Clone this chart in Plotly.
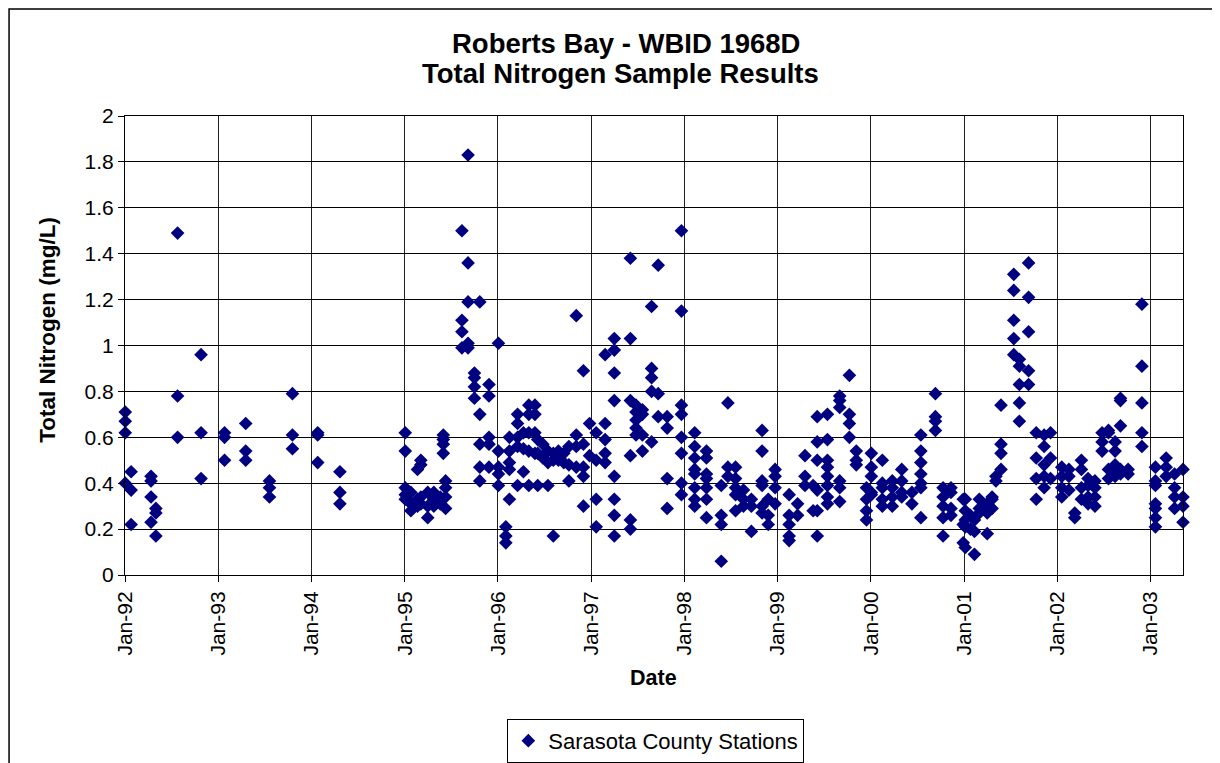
import plotly.graph_objects as go

# ---- data (sample date -> Total Nitrogen values, mg/L) ----
dates_1992 = ["1992-01-02", "1992-01-25", "1992-04-12", "1992-05-01", "1992-07-25", "1992-10-25"]
tn_1992 = [[0.71, 0.67, 0.62, 0.40], [0.45, 0.37, 0.22], [0.43, 0.41, 0.34, 0.23], [0.29, 0.27, 0.17],
           [1.49, 0.78, 0.60], [0.96, 0.62, 0.42]]

dates_1993 = ["1993-01-25", "1993-04-18", "1993-07-20", "1993-10-18"]
tn_1993 = [[0.62, 0.60, 0.50], [0.66, 0.54, 0.50], [0.41, 0.38, 0.34], [0.79, 0.61, 0.55]]

dates_1994 = ["1994-01-25", "1994-04-22"]
tn_1994 = [[0.62, 0.61, 0.49], [0.45, 0.36, 0.31]]

dates_1995 = ["1995-01-03", "1995-01-25", "1995-02-20", "1995-03-05", "1995-04-01", "1995-04-25",
              "1995-05-20", "1995-06-01", "1995-06-10", "1995-08-13", "1995-09-06", "1995-10-01",
              "1995-10-22", "1995-11-27"]
tn_1995 = [[0.62, 0.54, 0.38, 0.35, 0.33], [0.36, 0.31, 0.28], [0.46, 0.33, 0.30], [0.50, 0.48, 0.34, 0.31],
           [0.36, 0.30, 0.25], [0.36, 0.33, 0.30], [0.34, 0.31], [0.61, 0.59, 0.57, 0.53],
           [0.41, 0.38, 0.34, 0.29], [1.50, 1.11, 1.06, 0.99], [1.83, 1.36, 1.19, 1.01, 0.99],
           [0.88, 0.86, 0.82, 0.77], [1.19, 0.70, 0.57, 0.47, 0.41], [0.83, 0.78, 0.60, 0.57, 0.47]]

dates_1996 = ["1996-01-03", "1996-02-01", "1996-02-15", "1996-03-18", "1996-04-10", "1996-05-01",
              "1996-05-25", "1996-06-05", "1996-06-25", "1996-07-15", "1996-08-05", "1996-08-25",
              "1996-09-15", "1996-10-05", "1996-11-03", "1996-12-01", "1996-12-25"]
tn_1996 = [[1.01, 0.54, 0.47, 0.44, 0.39], [0.21, 0.17, 0.14], [0.60, 0.54, 0.49, 0.46, 0.33],
           [0.70, 0.66, 0.60, 0.56, 0.39], [0.62, 0.55, 0.45], [0.74, 0.70, 0.62, 0.54, 0.39],
           [0.74, 0.70, 0.62, 0.53], [0.59, 0.53, 0.39], [0.57, 0.51], [0.54, 0.49, 0.39],
           [0.53, 0.50, 0.17], [0.54, 0.50], [0.53, 0.49], [0.56, 0.48, 0.41], [1.13, 0.61, 0.56, 0.47],
           [0.89, 0.57, 0.47, 0.43, 0.30], [0.66, 0.52]]

dates_1997 = ["1997-01-20", "1997-02-24", "1997-04-01", "1997-06-03", "1997-06-25", "1997-07-20",
              "1997-08-25", "1997-09-20", "1997-10-25", "1997-12-20"]
tn_1997 = [[0.62, 0.50, 0.33, 0.21], [0.96, 0.66, 0.59, 0.53, 0.49],
           [1.03, 0.98, 0.88, 0.76, 0.43, 0.33, 0.26, 0.17], [1.38, 1.03, 0.76, 0.52, 0.24, 0.20],
           [0.74, 0.71, 0.675, 0.64, 0.61], [0.72, 0.70, 0.61, 0.54], [1.17, 0.90, 0.86, 0.80, 0.58],
           [1.35, 0.79, 0.69], [0.69, 0.64, 0.42, 0.29], [1.50, 1.15, 0.74, 0.70, 0.60, 0.53, 0.40, 0.35]]

dates_1998 = ["1998-02-10", "1998-03-28", "1998-05-25", "1998-06-20", "1998-07-20", "1998-08-20",
              "1998-09-20", "1998-11-01", "1998-11-25", "1998-12-22"]
tn_1998 = [[0.62, 0.56, 0.51, 0.46, 0.44, 0.38, 0.33, 0.30], [0.54, 0.51, 0.44, 0.42, 0.38, 0.33, 0.25],
           [0.39, 0.26, 0.22, 0.06], [0.75, 0.47, 0.43], [0.47, 0.42, 0.38, 0.35, 0.28], [0.37, 0.33, 0.30],
           [0.33, 0.30, 0.19], [0.63, 0.54, 0.41, 0.39, 0.30, 0.27], [0.33, 0.26, 0.22], [0.46, 0.43, 0.38, 0.31]]

dates_1999 = ["1999-02-15", "1999-03-20", "1999-04-18", "1999-05-20", "1999-06-05", "1999-07-15",
              "1999-09-01", "1999-10-09", "1999-11-05", "1999-12-15"]
tn_1999 = [[0.35, 0.26, 0.22, 0.17, 0.15], [0.31, 0.26], [0.52, 0.43, 0.39], [0.39, 0.28],
           [0.69, 0.58, 0.50, 0.37, 0.28, 0.17], [0.70, 0.59, 0.50, 0.47, 0.43, 0.39, 0.34, 0.31],
           [0.78, 0.76, 0.73, 0.41, 0.38, 0.32], [0.87, 0.70, 0.66, 0.60], [0.54, 0.50, 0.48],
           [0.38, 0.33, 0.28, 0.24]]

dates_2000 = ["2000-01-03", "2000-02-15", "2000-03-25", "2000-05-01", "2000-06-10", "2000-07-15",
              "2000-09-10", "2000-10-10", "2000-11-10", "2000-12-28"]
tn_2000 = [[0.53, 0.47, 0.43, 0.36, 0.35], [0.50, 0.40, 0.38, 0.33, 0.30], [0.41, 0.38, 0.34, 0.30],
           [0.46, 0.41, 0.36, 0.34], [0.36, 0.31], [0.61, 0.54, 0.49, 0.44, 0.40, 0.38, 0.25],
           [0.79, 0.69, 0.67, 0.63], [0.38, 0.34, 0.30, 0.25, 0.17], [0.38, 0.36, 0.29, 0.26], [0.33, 0.22, 0.14]]

dates_2001 = ["2001-01-05", "2001-01-25", "2001-02-10", "2001-03-01", "2001-04-01", "2001-04-20",
              "2001-05-05", "2001-05-25", "2001-07-14", "2001-08-05", "2001-09-10", "2001-10-10",
              "2001-11-10", "2001-12-05"]
tn_2001 = [[0.33, 0.28, 0.24, 0.21, 0.12], [0.26, 0.20], [0.24, 0.19, 0.09], [0.33, 0.29, 0.27],
           [0.31, 0.27, 0.18], [0.34, 0.33, 0.29], [0.43, 0.41], [0.74, 0.57, 0.53, 0.46],
           [1.31, 1.24, 1.11, 1.03, 0.96], [0.94, 0.91, 0.83, 0.75, 0.67], [1.36, 1.21, 1.06, 0.89, 0.83],
           [0.62, 0.51, 0.42, 0.33], [0.61, 0.56, 0.48, 0.43, 0.38], [0.62, 0.51, 0.42]]

dates_2002 = ["2002-01-18", "2002-02-15", "2002-03-10", "2002-04-05", "2002-05-01", "2002-05-28",
              "2002-06-25", "2002-07-20", "2002-08-15", "2002-09-05", "2002-10-05", "2002-11-28"]
tn_2002 = [[0.47, 0.43, 0.38, 0.34], [0.46, 0.43, 0.37], [0.27, 0.25], [0.50, 0.46, 0.38, 0.33],
           [0.42, 0.39, 0.34, 0.31], [0.41, 0.38, 0.34, 0.30], [0.62, 0.58, 0.54], [0.63, 0.62, 0.46, 0.42],
           [0.58, 0.54, 0.48, 0.45, 0.43], [0.77, 0.76, 0.65, 0.46, 0.44], [0.46, 0.44],
           [1.18, 0.91, 0.75, 0.62, 0.56]]

dates_2003 = ["2003-01-20", "2003-03-03", "2003-04-05", "2003-05-08"]
tn_2003 = [[0.47, 0.41, 0.39, 0.31, 0.29, 0.25, 0.21], [0.51, 0.47, 0.43], [0.44, 0.38, 0.34, 0.29],
           [0.46, 0.34, 0.30, 0.23]]

series_name = "Sarasota County Stations"
title_lines = ["Roberts Bay - WBID 1968D", "Total Nitrogen Sample Results"]
x_title = "Date"
y_title = "Total Nitrogen (mg/L)"

all_dates = [dates_1992, dates_1993, dates_1994, dates_1995, dates_1996, dates_1997, dates_1998,
             dates_1999, dates_2000, dates_2001, dates_2002, dates_2003]
all_tn = [tn_1992, tn_1993, tn_1994, tn_1995, tn_1996, tn_1997, tn_1998, tn_1999, tn_2000, tn_2001,
          tn_2002, tn_2003]

xs, ys = [], []
for dl, vl in zip(all_dates, all_tn):
    for d, vals in zip(dl, vl):
        for v in vals:
            xs.append(d)
            ys.append(v)

# ---- figure (page body has an 8px margin, so the figure is offset by 8px) ----
OFF = 8
W, H = 1220 - OFF, 763 - OFF
# plot-area edges in page pixels
L, R, T, B = 124.5 - OFF, 1183 - OFF, 115.5 - OFF, 575 - OFF
pw, ph = R - L, B - T

def px(x):
    return (x - OFF - L) / pw

def py(y):
    return (B - (y - OFF)) / ph

FONT = "Liberation Sans, Arial, sans-serif"

fig = go.Figure()
fig.add_trace(go.Scatter(
    x=xs, y=ys, mode="markers", name=series_name,
    marker=dict(symbol="diamond", size=10.5, color="#000080", line=dict(width=0)),
    cliponaxis=False,
))

fig.update_layout(
    width=W, height=H,
    margin=dict(l=L, r=W - R, t=T, b=H - B, pad=0, autoexpand=False),
    paper_bgcolor="white", plot_bgcolor="white",
    font=dict(family=FONT, size=21, color="black"),
    showlegend=True,
    legend=dict(
        x=px(507), y=py(719), xanchor="left", yanchor="top",
        bordercolor="black", borderwidth=1, bgcolor="white",
        font=dict(size=22), itemwidth=30, tracegroupgap=0,
    ),
    xaxis=dict(
        type="date", range=["1992-01-01", "2003-05-08"],
        tick0="1992-01-01", dtick="M12", tickformat="%b-%y", tickangle=-90,
        showgrid=True, gridcolor="#202020", gridwidth=1,
        showline=True, linecolor="black", linewidth=1, mirror=True,
        ticks="outside", ticklen=6, tickcolor="black", ticklabelstandoff=1,
        tickfont=dict(size=21), zeroline=False,
    ),
    yaxis=dict(
        range=[0, 2], dtick=0.2, tick0=0,
        showgrid=True, gridcolor="#000000", gridwidth=1,
        showline=True, linecolor="black", linewidth=1, mirror=True,
        ticks="outside", ticklen=6, tickcolor="black",
        tickfont=dict(size=21), zeroline=False,
    ),
    annotations=[
        dict(text="<b>%s</b>" % title_lines[0], x=px(626), y=py(43), xref="paper", yref="paper",
             showarrow=False, xanchor="center", yanchor="middle", font=dict(size=27.5)),
        dict(text="<b>%s</b>" % title_lines[1], x=px(620), y=py(73), xref="paper", yref="paper",
             showarrow=False, xanchor="center", yanchor="middle", font=dict(size=27.5)),
        dict(text="<b>%s</b>" % x_title, x=px(653), y=py(678), xref="paper", yref="paper",
             showarrow=False, xanchor="center", yanchor="middle", font=dict(size=21.5)),
        dict(text="<b>%s</b>" % y_title, x=px(47), y=py(330), xref="paper", yref="paper",
             showarrow=False, xanchor="center", yanchor="middle", textangle=-90, font=dict(size=22.5)),
    ],
    shapes=[
        dict(type="rect", xref="paper", yref="paper", x0=px(8.5), x1=px(1213), y0=py(790), y1=py(8.5),
             line=dict(color="black", width=1.5), fillcolor="rgba(0,0,0,0)", layer="below"),
    ],
)

fig.write_html("out.html")
